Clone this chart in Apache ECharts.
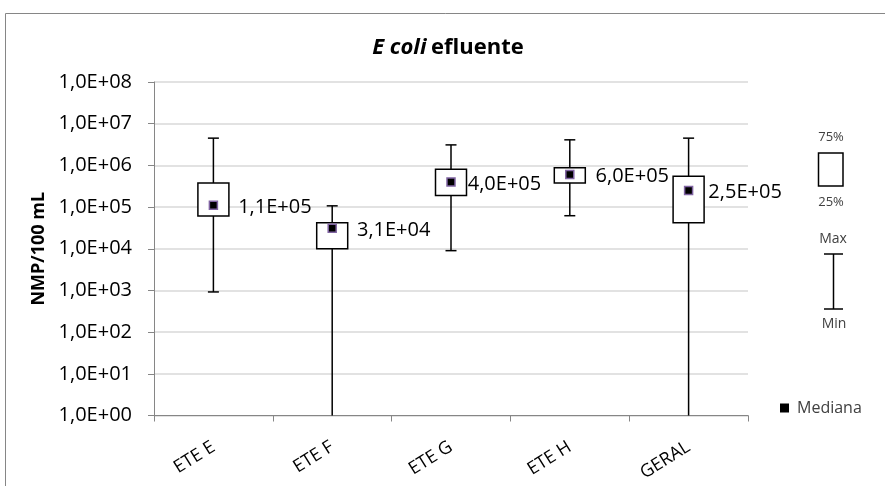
<!DOCTYPE html>
<html>
<head>
<meta charset="utf-8">
<script src="https://cdn.jsdelivr.net/npm/echarts@6/dist/echarts.min.js"></script>
<style>
  html, body { margin: 0; padding: 0; background: #fff; }
  #chart { width: 885px; height: 486px; }
</style>
</head>
<body>
<div id="chart"></div>
<script>
// Estações e estatísticas de E. coli no efluente (NMP/100 mL)
const categorias = ['ETE E', 'ETE F', 'ETE G', 'ETE H', 'GERAL'];
const minimo  = [920,     1,      9000,    62000,   1];
const q25     = [61000,   10000,  190000,  380000,  42000];
const mediana = [110000,  31000,  400000,  600000,  250000];
const q75     = [380000,  42000,  810000,  880000,  550000];
const maximo  = [4500000, 107000, 3100000, 4100000, 4500000];

// Limites do eixo logarítmico
const eixoMin = 1;
const eixoMax = 1e8;

// Afastamento do rótulo de cada mediana (px)
const etiquetaDist = [20, 20, 12, 21, 15];

const FONTE = '"Open Sans", "Noto Sans", sans-serif';

// 1.1e5 -> "1,1E+05"
function cientifico(v) {
  if (v <= 0) return '0,0E+00';
  let e = Math.floor(Math.log10(v) + 1e-9);
  let m = v / Math.pow(10, e);
  if (Math.round(m * 10) >= 100) { e += 1; m = v / Math.pow(10, e); }
  const sinal = e < 0 ? '-' : '+';
  return m.toFixed(1).replace('.', ',') + 'E' + sinal + String(Math.abs(e)).padStart(2, '0');
}

const chart = echarts.init(document.getElementById('chart'), null, { renderer: 'canvas' });

const caixas = categorias.map((c, i) => [i, minimo[i], q25[i], mediana[i], q75[i], maximo[i]]);

// caixa 25%-75% com haste mín-máx
function desenhaCaixa(params, api) {
  const i = api.value(0);
  const vMin = api.value(1), vQ1 = api.value(2), vQ3 = api.value(4), vMax = api.value(5);
  const xc = api.coord([i, vMax])[0];
  const yMax = api.coord([i, vMax])[1];
  const yQ3 = api.coord([i, vQ3])[1];
  const yQ1 = api.coord([i, vQ1])[1];
  const yMin = api.coord([i, Math.max(vMin, eixoMin)])[1];
  const larg = 31, cap = 11;
  const traco = { stroke: '#000', lineWidth: 1.5, fill: null };
  const filhos = [
    { type: 'line', shape: { x1: xc, y1: yMax, x2: xc, y2: yMin }, style: traco },
    { type: 'line', shape: { x1: xc - cap / 2, y1: yMax, x2: xc + cap / 2, y2: yMax }, style: traco }
  ];
  if (vMin > eixoMin) {
    filhos.push({ type: 'line', shape: { x1: xc - cap / 2, y1: yMin, x2: xc + cap / 2, y2: yMin }, style: traco });
  }
  filhos.push({
    type: 'rect',
    shape: { x: xc - larg / 2, y: yQ3, width: larg, height: yQ1 - yQ3 },
    style: { fill: '#fff', stroke: '#000', lineWidth: 1.5 }
  });
  return { type: 'group', children: filhos };
}

const legendaCor = '#404040';

const option = {
  animation: false,
  backgroundColor: '#fff',
  textStyle: { fontFamily: FONTE },
  title: {
    text: '{it|E coli} {b|efluente}',
    left: 443,
    textAlign: 'center',
    top: 32,
    textStyle: {
      rich: {
        it: { fontFamily: FONTE, fontSize: 22, fontWeight: 'bold', fontStyle: 'italic', color: '#000' },
        b: { fontFamily: FONTE, fontSize: 22, fontWeight: 'bold', color: '#000' }
      }
    }
  },
  grid: { left: 154, right: 137, top: 82, bottom: 70.5, containLabel: false },
  xAxis: {
    type: 'category',
    data: categorias,
    boundaryGap: true,
    axisLine: { lineStyle: { color: '#868686', width: 1 } },
    axisTick: { show: true, length: 6, lineStyle: { color: '#868686' } },
    axisLabel: {
      rotate: 32,
      margin: 30,
      fontSize: 18,
      color: '#000',
      fontFamily: FONTE,
      interval: 0
    },
    splitLine: { show: false }
  },
  yAxis: {
    type: 'log',
    logBase: 10,
    min: eixoMin,
    max: eixoMax,
    interval: 1,
    name: 'NMP/100 mL',
    nameLocation: 'middle',
    nameGap: 99,
    nameTextStyle: { fontFamily: FONTE, fontSize: 18, fontWeight: 'bold', color: '#000' },
    axisLine: { show: true, lineStyle: { color: '#868686', width: 1 } },
    axisTick: { show: true, length: 6, lineStyle: { color: '#868686' } },
    axisLabel: {
      margin: 22,
      fontSize: 20,
      color: '#000',
      fontFamily: FONTE,
      formatter: v => cientifico(v)
    },
    splitLine: { show: true, lineStyle: { color: '#d9d9d9', width: 1.5 } }
  },
  legend: {
    left: 775,
    top: 395,
    orient: 'vertical',
    itemWidth: 9,
    itemHeight: 9,
    data: [{ name: 'Mediana', icon: 'rect', itemStyle: { color: '#000', borderWidth: 0 } }],
    textStyle: { fontFamily: FONTE, fontSize: 16, color: legendaCor, padding: [0, 0, 0, 3] }
  },
  series: [
    {
      name: 'Caixa',
      type: 'custom',
      data: caixas,
      encode: { x: 0, y: [1, 2, 4, 5] },
      renderItem: desenhaCaixa,
      z: 2
    },
    {
      name: 'Mediana',
      type: 'scatter',
      data: mediana.map((v, i) => ({
        value: v,
        label: { distance: etiquetaDist[i] }
      })),
      symbol: 'rect',
      symbolSize: 8,
      itemStyle: { color: '#000', borderColor: '#8064a2', borderWidth: 1.5, opacity: 1 },
      label: {
        show: true,
        position: 'right',
        offset: [0, 2],
        fontFamily: FONTE,
        fontSize: 20,
        color: '#000',
        formatter: p => cientifico(p.value)
      },
      z: 5
    }
  ],
  graphic: [
    // moldura da área do gráfico
    { type: 'rect', silent: true,
      shape: { x: 5.5, y: 13.5, width: 1000, height: 1000 },
      style: { fill: null, stroke: '#868686', lineWidth: 1 } },
    // legenda: quartis
    { type: 'text', x: 831, y: 137, silent: true,
      style: { text: '75%', fontFamily: FONTE, fontSize: 13, fill: legendaCor, align: 'center', verticalAlign: 'middle' } },
    { type: 'rect', silent: true,
      shape: { x: 818.5, y: 153, width: 24.5, height: 33 },
      style: { fill: '#fff', stroke: '#000', lineWidth: 1.5 } },
    { type: 'text', x: 831, y: 202, silent: true,
      style: { text: '25%', fontFamily: FONTE, fontSize: 13, fill: legendaCor, align: 'center', verticalAlign: 'middle' } },
    // legenda: extremos
    { type: 'text', x: 833, y: 239, silent: true,
      style: { text: 'Max', fontFamily: FONTE, fontSize: 14, fill: legendaCor, align: 'center', verticalAlign: 'middle' } },
    { type: 'line', silent: true, shape: { x1: 833.5, y1: 254, x2: 833.5, y2: 309 }, style: { stroke: '#000', lineWidth: 1.5 } },
    { type: 'line', silent: true, shape: { x1: 824, y1: 254, x2: 843, y2: 254 }, style: { stroke: '#000', lineWidth: 1.5 } },
    { type: 'line', silent: true, shape: { x1: 824, y1: 309, x2: 843, y2: 309 }, style: { stroke: '#000', lineWidth: 1.5 } },
    { type: 'text', x: 834, y: 324, silent: true,
      style: { text: 'Min', fontFamily: FONTE, fontSize: 14, fill: legendaCor, align: 'center', verticalAlign: 'middle' } }
  ]
};

chart.setOption(option);
</script>
</body>
</html>
